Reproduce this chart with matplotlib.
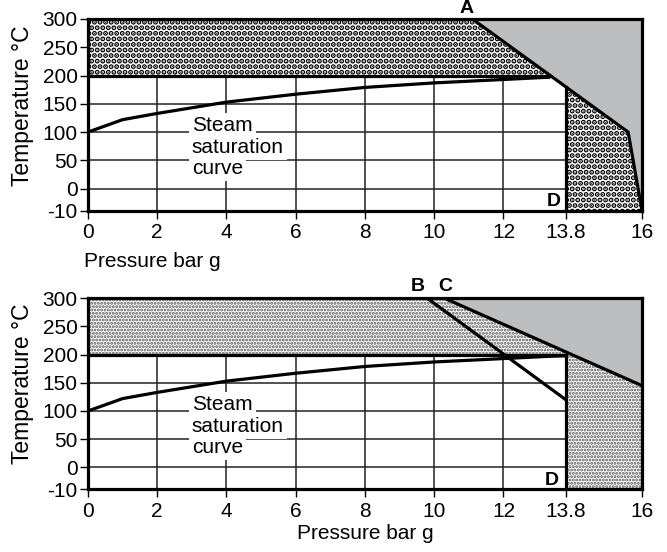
import matplotlib

matplotlib.use("Agg")
import matplotlib.pyplot as plt
import numpy as np

plt.rcParams["font.family"] = ["Liberation Sans", "DejaVu Sans"]
plt.rcParams["axes.unicode_minus"] = False

# axis ticks
x_ticks = [0, 2, 4, 6, 8, 10, 12, 13.8, 16]
x_labels = ["0", "2", "4", "6", "8", "10", "12", "13.8", "16"]
y_ticks = [-10, 0, 50, 100, 150, 200, 250, 300]
y_labels = ["-10", "0", "50", "100", "150", "200", "250", "300"]

# steam saturation curve (bar g, degC)
sat_p = [0, 1, 2, 4, 6, 8, 10, 12, 13.3, 13.8]
sat_t = [100, 122, 133, 153, 167, 179, 187, 193, 197, 198]
sat_label = ["Steam", "saturation", "curve"]
sat_label_y = [102, 63, 26]

# upper chart: limit line A (pressure, temperature)
a_p = [11.1, 15.6, 16.0]
a_t = [300, 100, -10]

# lower chart: limit lines B and C
b_p = [9.8, 13.8]
b_t = [300, 120]
c_p = [10.3, 16.0]
c_t = [300, 145]

T_LIMIT = 200
P_LIMIT = 13.8
P_MAX = 16
T_MIN, T_MAX = -10, 300

GRAY = "#bdbec0"
K = 3.9  # the -10..0 band is stretched on the original chart


def fwd(y):
    y = np.asarray(y, dtype=float)
    return np.where(y < 0, y * K, y)


def inv(v):
    v = np.asarray(v, dtype=float)
    return np.where(v < 0, v / K, v)


def dotted(ax, xs, ys, color, hatch, hlw):
    with plt.rc_context({"hatch.linewidth": hlw}):
        poly = ax.fill(xs, ys, facecolor="white", edgecolor=color, hatch=hatch,
                       linewidth=0, zorder=1)[0]
    if hasattr(poly, "set_hatch_linewidth"):
        poly.set_hatch_linewidth(hlw)
    return poly


def setup(ax):
    ax.set_yscale("function", functions=(fwd, inv))
    ax.set_xlim(0, P_MAX)
    ax.set_ylim(T_MIN, T_MAX)
    ax.set_xticks(x_ticks, x_labels)
    ax.set_yticks(y_ticks, y_labels)
    ax.minorticks_off()
    ax.tick_params(direction="out", length=6, width=1, labelsize=15, pad=3)
    ax.tick_params(axis="y", pad=1.5)
    ax.set_axisbelow(True)
    ax.grid(True, color="#222222", lw=1.1)
    for s in ax.spines.values():
        s.set_linewidth(2.3)
    ax.set_ylabel("Temperature °C", fontsize=16.5)
    ax.yaxis.set_label_coords(-0.097, 0.55)
    for txt, y in zip(sat_label, sat_label_y):
        ax.text(3.0, y, txt, fontsize=15, ha="left", va="baseline", zorder=4,
                bbox=dict(boxstyle="square,pad=0.15", fc="white", ec="none"))


def letter(ax, s, x, y, dy, ha="center"):
    ax.annotate(s, xy=(x, y), xytext=(0, dy), textcoords="offset points",
                ha=ha, va="baseline", fontsize=14, fontweight="bold",
                annotation_clip=False)


fig = plt.figure(figsize=(6.67, 5.52), dpi=100)
ax1 = fig.add_axes([0.1319, 0.6183, 0.8306, 0.3473])
ax2 = fig.add_axes([0.1319, 0.1136, 0.8306, 0.346])

lw = 2.3

# ---- upper chart
setup(ax1)
a_at_limit_p = np.interp(T_LIMIT, a_t[::-1], a_p[::-1])
a_at_limit_t = np.interp(P_LIMIT, a_p, a_t)
ax1.fill(a_p + [P_MAX], a_t + [T_MAX], color=GRAY, lw=0, zorder=1)
dotted(ax1, [0, 0, a_p[0], a_at_limit_p], [T_LIMIT, T_MAX, T_MAX, T_LIMIT],
       "black", "...", 2.6)
dotted(ax1, [P_LIMIT, P_LIMIT] + a_p[1:], [T_MIN, a_at_limit_t] + a_t[1:],
       "black", "...", 2.6)
ax1.plot(a_p, a_t, color="black", lw=lw, solid_joinstyle="miter", zorder=3)
ax1.plot([0, a_at_limit_p], [T_LIMIT, T_LIMIT], color="black", lw=lw, zorder=3)
ax1.plot([P_LIMIT, P_LIMIT], [T_MIN, a_at_limit_t], color="black", lw=lw, zorder=3)
n_top = sum(p <= a_at_limit_p for p in sat_p)
ax1.plot(sat_p[:n_top], sat_t[:n_top], color="black", lw=lw, zorder=3)
ax1.set_xlabel("Pressure bar g", fontsize=15)
ax1.xaxis.set_label_coords(-0.008, -0.215)
ax1.xaxis.label.set_horizontalalignment("left")
letter(ax1, "A", 10.92, T_MAX, 4.3)
letter(ax1, "D", 13.65, T_MIN, 3.4, ha="right")

# ---- lower chart
setup(ax2)
c_at_max_t = np.interp(P_MAX, c_p, c_t)
ax2.fill(c_p + [P_MAX], c_t + [T_MAX], color=GRAY, lw=0, zorder=1)
dotted(ax2, [0, 0, c_p[0], P_MAX, P_MAX, P_LIMIT, P_LIMIT],
       [T_LIMIT, T_MAX, T_MAX, c_at_max_t, T_MIN, T_MIN, T_LIMIT],
       "#555555", ".....", 1.4)
ax2.plot(c_p, c_t, color="black", lw=lw, zorder=3)
ax2.plot(b_p, b_t, color="black", lw=lw, zorder=3)
ax2.plot([0, P_LIMIT], [T_LIMIT, T_LIMIT], color="black", lw=lw, zorder=3)
ax2.plot([P_LIMIT, P_LIMIT], [T_MIN, T_LIMIT], color="black", lw=lw, zorder=3)
ax2.plot(sat_p, sat_t, color="black", lw=lw, zorder=3)
ax2.set_xlabel("Pressure bar g", fontsize=15, labelpad=2)
letter(ax2, "B", 9.53, T_MAX, 5.5)
letter(ax2, "C", 10.32, T_MAX, 5.5)
letter(ax2, "D", 13.6, T_MIN, 3.1, ha="right")

fig.savefig("out.png", dpi=100)
